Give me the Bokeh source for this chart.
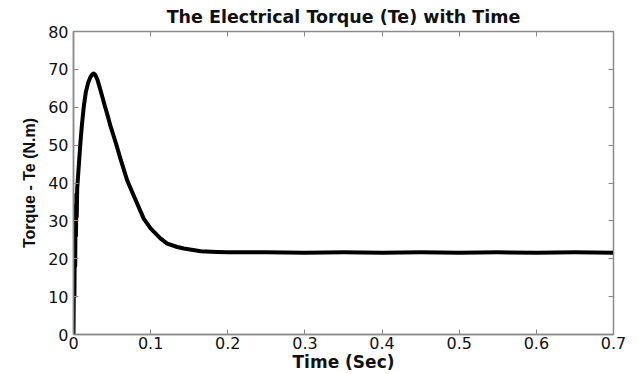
from bokeh.plotting import figure
from bokeh.models import Range1d, LinearAxis, FixedTicker
from bokeh.embed import file_html
from bokeh.resources import INLINE

# Data
time_s = [0.0, 0.0008, 0.0012, 0.0018, 0.0022, 0.0028, 0.0032, 0.0038, 0.0042, 0.0048,
          0.007, 0.009, 0.011, 0.0134, 0.016, 0.019, 0.022, 0.0245, 0.0263, 0.028,
          0.031, 0.035, 0.04, 0.044, 0.048, 0.055, 0.061, 0.0696, 0.078, 0.091, 0.0999,
          0.113, 0.1215, 0.1345, 0.143, 0.165, 0.186, 0.2, 0.25, 0.3, 0.35,
          0.4, 0.45, 0.5, 0.55, 0.6, 0.65, 0.7]
torque = [0.0, 22.0, 10.0, 30.0, 18.0, 34.0, 26.0, 37.0, 31.0, 38.5,
          45.0, 50.7, 55.5, 60.3, 64.0, 66.5, 68.0, 68.7, 68.9, 68.6,
          67.3, 64.5, 60.8, 58.0, 55.0, 50.5, 46.3, 40.7, 36.7, 30.6, 28.0,
          25.3, 24.0, 23.1, 22.7, 22.0, 21.8, 21.7, 21.7, 21.6, 21.7,
          21.6, 21.7, 21.6, 21.7, 21.6, 21.7, 21.6]
x_ticks = [0, 0.1, 0.2, 0.3, 0.4, 0.5, 0.6, 0.7]
y_ticks = [0, 10, 20, 30, 40, 50, 60, 70, 80]
x_labels = {0: "0", 0.1: "0.1", 0.2: "0.2", 0.3: "0.3", 0.4: "0.4", 0.5: "0.5", 0.6: "0.6", 0.7: "0.7"}

WIDE = "DejaVu Sans"
NARROW = "Liberation Sans"
GREY = "#8a8a8a"
INK = "#111111"

p = figure(width=638, height=374, output_backend="svg", toolbar_location=None,
           x_range=Range1d(0, 0.7), y_range=Range1d(0, 80),
           title="The Electrical Torque (Te) with Time",
           min_border_left=73, min_border_right=25, min_border_top=31, min_border_bottom=37)

p.title.align = "center"
p.title.text_font = WIDE
p.title.text_font_style = "bold"
p.title.text_font_size = "17.5px"
p.title.text_color = INK
p.title.offset = 0
p.title.standoff = 9

p.grid.visible = False
p.outline_line_color = GREY
p.outline_line_width = 1.5
p.background_fill_color = "white"
p.border_fill_color = "white"

for ax in (p.xaxis[0], p.yaxis[0]):
    ax.axis_line_color = GREY
    ax.axis_line_width = 1.5
    ax.major_tick_line_color = GREY
    ax.major_tick_in = 5
    ax.major_tick_out = 0
    ax.minor_tick_line_color = None
    ax.major_label_text_font = WIDE
    ax.major_label_text_font_size = "16px"
    ax.major_label_text_color = INK
    ax.axis_label_text_font_style = "bold"
    ax.axis_label_text_color = INK

p.xaxis[0].ticker = FixedTicker(ticks=x_ticks)
p.yaxis[0].ticker = FixedTicker(ticks=y_ticks)
p.xaxis[0].major_label_overrides = x_labels
p.xaxis[0].axis_label = "Time (Sec)"
p.xaxis[0].axis_label_text_font = WIDE
p.xaxis[0].axis_label_text_font_size = "17px"
p.yaxis[0].axis_label = "Torque - Te (N.m)"
p.yaxis[0].axis_label_text_font = NARROW
p.yaxis[0].axis_label_text_font_size = "16px"
p.xaxis[0].major_label_standoff = 2
p.xaxis[0].axis_label_standoff = 0
p.yaxis[0].major_label_standoff = 5
p.yaxis[0].axis_label_standoff = 7

# mirrored tick marks on top and right (no labels)
top = LinearAxis(ticker=FixedTicker(ticks=x_ticks), major_label_text_color=None,
                 axis_line_color=GREY, major_tick_line_color=GREY, major_tick_in=5,
                 major_tick_out=0, minor_tick_line_color=None, major_label_standoff=0)
right = LinearAxis(ticker=FixedTicker(ticks=y_ticks), major_label_text_color=None,
                   axis_line_color=GREY, major_tick_line_color=GREY, major_tick_in=5,
                   major_tick_out=0, minor_tick_line_color=None, major_label_standoff=0)
p.add_layout(top, "above")
p.add_layout(right, "right")

p.line(time_s, torque, line_color="black", line_width=4, line_join="round")

open("out.html", "w").write(file_html(p, INLINE))
